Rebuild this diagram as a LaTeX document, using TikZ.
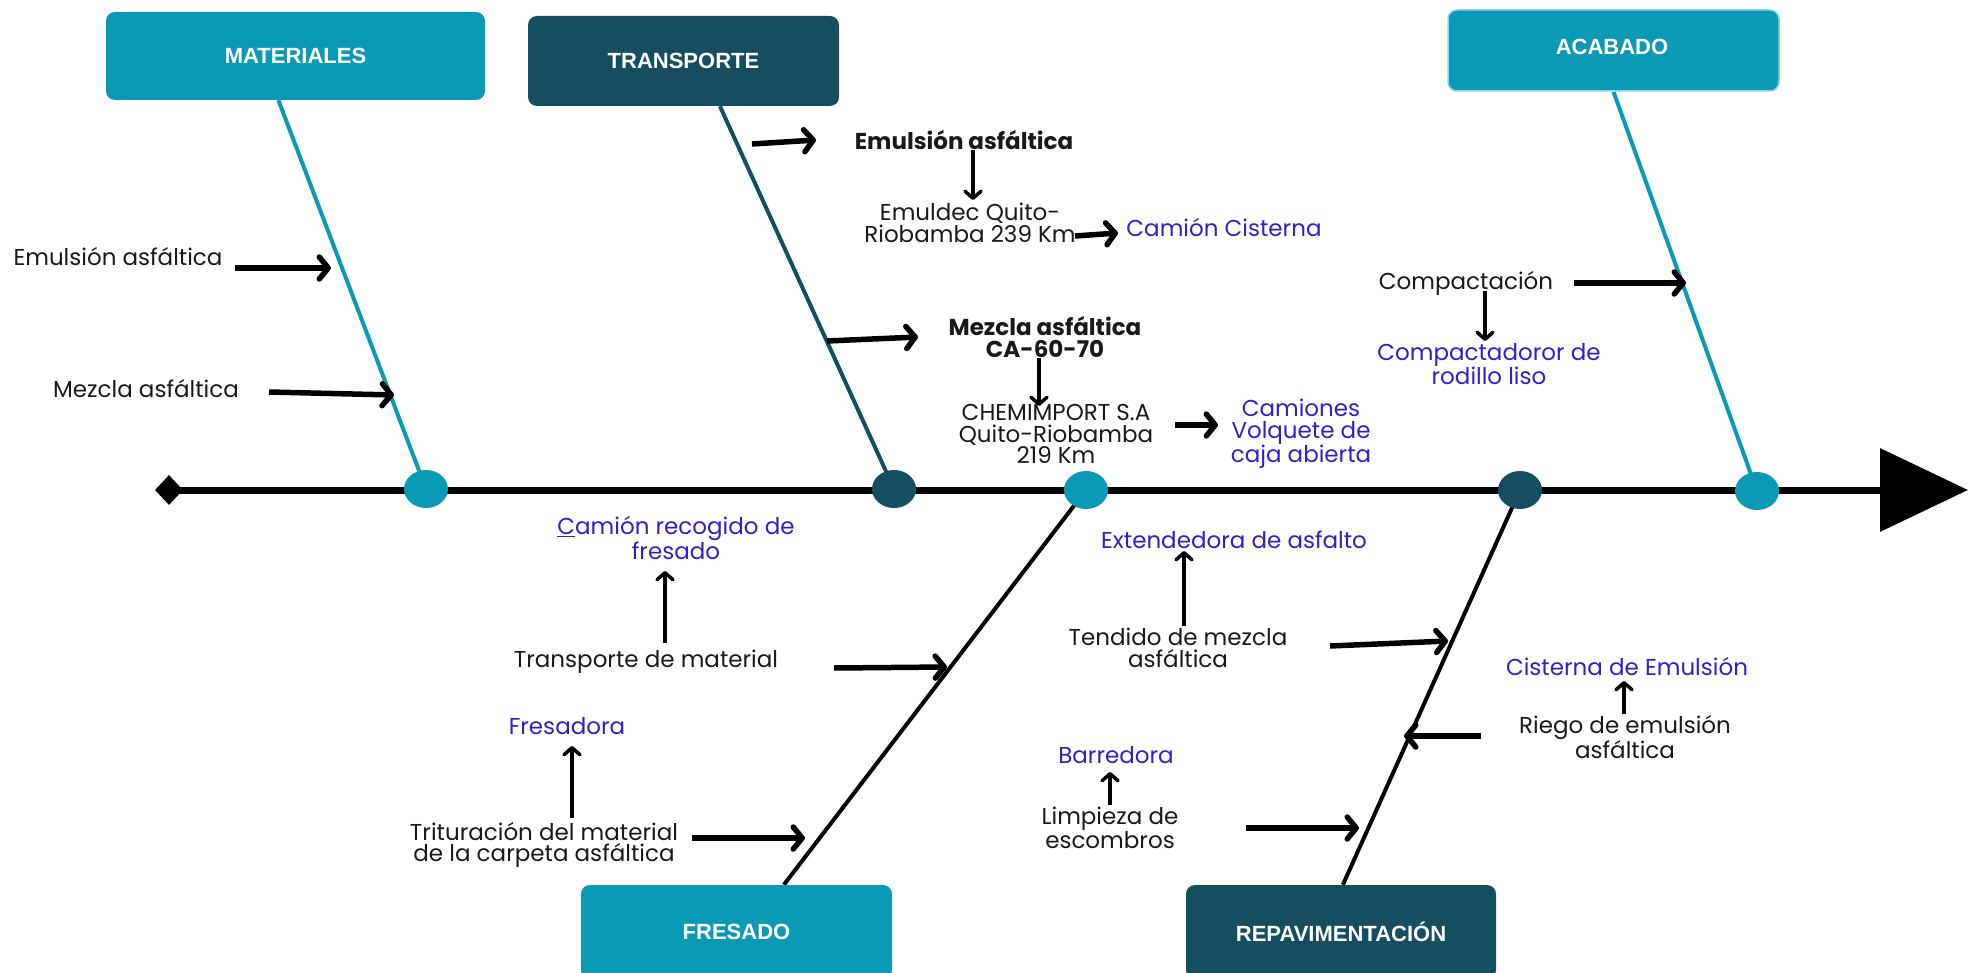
\documentclass[tikz,border=0pt]{standalone}
\usepackage{fontspec}
\setmainfont{Poppins}
\newfontfamily\hdfont{Liberation Sans}
\usetikzlibrary{arrows.meta,shapes.geometric,calc}
\definecolor{tealA}{RGB}{11,154,182}
\definecolor{tealD}{RGB}{21,78,94}
\definecolor{vblue}{RGB}{52,30,200}
\definecolor{ink}{RGB}{25,25,25}
\pgfdeclarelayer{bg}
\pgfsetlayers{bg,main}
\begin{document}
\begin{tikzpicture}[x=1pt,y=-1pt,
  txt/.style={font=\fontsize{23}{21.5}\selectfont, align=center, inner sep=0pt, text=ink},
  btxt/.style={font=\fontsize{23}{22}\selectfont\bfseries, align=center, inner sep=0pt, text=ink},
  ctxt/.style={font=\fontsize{23}{21.5}\selectfont, align=center, inner sep=0pt, text=vblue},
  hdr/.style={rounded corners=9pt, inner sep=0pt, font=\hdfont\bfseries\fontsize{22}{24}\selectfont, text=white},
  dot/.style={ellipse, minimum width=44pt, minimum height=38pt, inner sep=0pt},
  harr/.style={line width=5.5pt, -{Straight Barb[length=9pt,width=22pt,round]}},
  varr/.style={line width=3.5pt, -{Straight Barb[length=7pt,width=16pt,round]}},
  bone/.style={line width=4pt}
]
\useasboundingbox (0,0) rectangle (1969,973);

% ---------- category boxes ----------
\node[hdr, fill=tealA, minimum width=379pt, minimum height=88pt] (mat) at (295.5,56) {MATERIALES};
\node[hdr, fill=tealD, minimum width=311pt, minimum height=90pt] (tra) at (683.5,61) {TRANSPORTE};
\node[hdr, fill=tealA, draw=tealA!45, line width=1.5pt, minimum width=331pt, minimum height=81pt] (aca) at (1613.5,50.5) {};
\node[font=\hdfont\bfseries\fontsize{22}{24}\selectfont, text=white, inner sep=0pt] (acal) at (1612,47) {ACABADO};
\node[hdr, fill=tealA, minimum width=311pt, minimum height=94pt] (fre) at (736.5,932) {FRESADO};
\node[hdr, fill=tealD, minimum width=310pt, minimum height=94pt] (rep) at (1341,932) {REPAVIMENTACIÓN};

% ---------- spine ----------
\node[diamond, fill=black, minimum width=28pt, minimum height=30pt, inner sep=0pt] (tail) at (169,490) {};
\coordinate (head) at (1968,490);
\node[dot, fill=tealA] (cm) at (426,489) {};
\node[dot, fill=tealD] (ct) at (894,489) {};
\node[dot, fill=tealA] (cf) at (1086,490) {};
\node[dot, fill=tealD] (cr) at (1520,490) {};
\node[dot, fill=tealA] (ca) at (1757,491) {};

\begin{pgfonlayer}{bg}
\draw[line width=7pt, -{Triangle[length=88pt,width=82pt]}] (tail.center) -- (head);
\draw[bone, tealA] ($(mat.south west)!0.455!(mat.south east)$) -- (cm.center);
\draw[bone, tealD] ($(tra.south west)!0.617!(tra.south east)$) -- (ct.center);
\draw[bone, tealA] ($(aca.south west)!0.5!(aca.south east)$) -- (ca.center);
\draw[bone, black] (cf.center) -- ($(fre.north west)!0.652!(fre.north east)$);
\draw[bone, black] (cr.center) -- ($(rep.north west)!0.506!(rep.north east)$);
\end{pgfonlayer}

% ---------- texts ----------
\node[txt] (t1) at (118,257) {Emulsión asfáltica};
\node[txt] (t2) at (146,389) {Mezcla asfáltica};
\node[btxt] (t3) at (964,140) {Emulsión asfáltica};
\node[txt] (t4) at (970,223) {Emuldec Quito-\\Riobamba 239 Km};
\node[ctxt] (t5) at (1224,228) {Camión Cisterna};
\node[btxt] (t6) at (1045,337) {Mezcla asfáltica\\CA-60-70};
\node[txt] (t7) at (1056,434) {CHEMIMPORT S.A\\Quito-Riobamba\\219 Km};
\node[ctxt] (t8) at (1301,434) {Camiones\\Volquete de\\caja abierta};
\node[txt] (t9) at (1466,283) {Compactación};
\node[ctxt] (t10) at (1489,364) {Compactadoror de\\rodillo liso};
\node[ctxt] (t11) at (676,538) {\underline{C}amión recogido de\\fresado};
\node[txt] (t12) at (646,662) {Transporte de material};
\node[ctxt] (t13) at (567,726) {Fresadora};
\node[txt] (t14) at (544,845) {Trituración del material\\de la carpeta asfáltica};
\node[ctxt] (t15) at (1234,540) {Extendedora de asfalto};
\node[txt] (t16) at (1178,648) {Tendido de mezcla\\asfáltica};
\node[ctxt] (t17) at (1627,667) {Cisterna de Emulsión};
\node[txt] (t18) at (1625,737) {Riego de emulsión\\asfáltica};
\node[ctxt] (t19) at (1116,755) {Barredora};
\node[txt] (t20) at (1110,828) {Limpieza de\\escombros};

% ---------- arrow end points ----------
\coordinate (a1s) at (235,268);  \coordinate (a1e) at (331,268);
\coordinate (a2s) at (269,392);  \coordinate (a2e) at (394,395);
\coordinate (a3s) at (752,144);  \coordinate (a3e) at (816,140);
\coordinate (a4s) at (973,150);  \coordinate (a4e) at (973,200);
\coordinate (a5s) at (1075,236); \coordinate (a5e) at (1118,233);
\coordinate (a6s) at (827,341);  \coordinate (a6e) at (918,337);
\coordinate (a7s) at (1039,358); \coordinate (a7e) at (1039,406);
\coordinate (a8s) at (1175,425); \coordinate (a8e) at (1218,425);
\coordinate (a9s) at (1574,283); \coordinate (a9e) at (1686,283);
\coordinate (a10s) at (1485,291); \coordinate (a10e) at (1485,341);
\coordinate (a11s) at (665,643); \coordinate (a11e) at (665,571);
\coordinate (a12s) at (834,668); \coordinate (a12e) at (947,667);
\coordinate (a13s) at (572,818); \coordinate (a13e) at (572,746);
\coordinate (a14s) at (692,838); \coordinate (a14e) at (805,838);
\coordinate (a15s) at (1184,626); \coordinate (a15e) at (1184,551);
\coordinate (a16s) at (1330,646); \coordinate (a16e) at (1448,641);
\coordinate (a17s) at (1624,714); \coordinate (a17e) at (1624,681);
\coordinate (a18s) at (1481,736); \coordinate (a18e) at (1404,736);
\coordinate (a19s) at (1110,805); \coordinate (a19e) at (1110,772);
\coordinate (a20s) at (1246,828); \coordinate (a20e) at (1359,828);

\draw[harr] (a1s) -- (a1e);
\draw[harr] (a2s) -- (a2e);
\draw[harr] (a3s) -- (a3e);
\draw[varr] (a4s) -- (a4e);
\draw[harr] (a5s) -- (a5e);
\draw[harr] (a6s) -- (a6e);
\draw[varr] (a7s) -- (a7e);
\draw[harr] (a8s) -- (a8e);
\draw[harr] (a9s) -- (a9e);
\draw[varr] (a10s) -- (a10e);
\draw[varr] (a11s) -- (a11e);
\draw[harr] (a12s) -- (a12e);
\draw[varr] (a13s) -- (a13e);
\draw[harr] (a14s) -- (a14e);
\draw[varr] (a15s) -- (a15e);
\draw[harr] (a16s) -- (a16e);
\draw[varr] (a17s) -- (a17e);
\draw[harr] (a18s) -- (a18e);
\draw[varr] (a19s) -- (a19e);
\draw[harr] (a20s) -- (a20e);
\end{tikzpicture}
\end{document}
